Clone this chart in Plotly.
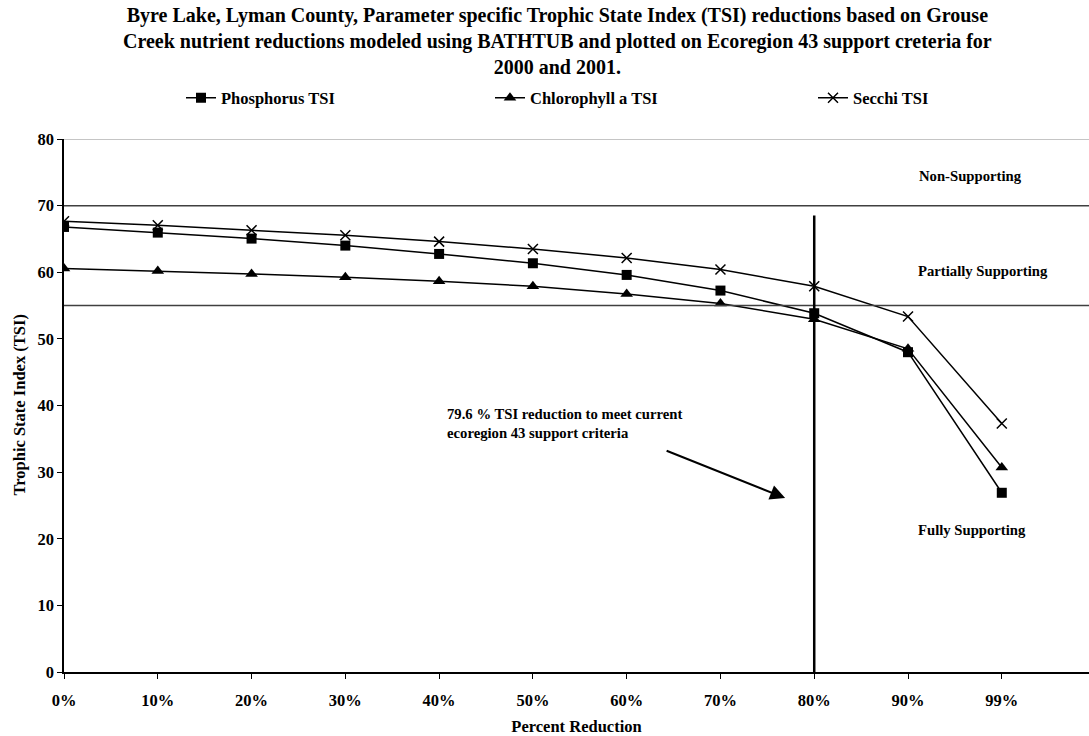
import plotly.graph_objects as go

# Percent reduction categories and parameter-specific TSI values
reduction = ["0%", "10%", "20%", "30%", "40%", "50%", "60%", "70%", "80%", "90%", "99%"]
phosphorus_tsi = [66.8, 65.95, 65.05, 64.0, 62.75, 61.35, 59.6, 57.25, 53.85, 48.0, 26.9]
chlorophyll_tsi = [60.55, 60.2, 59.75, 59.25, 58.65, 57.9, 56.75, 55.3, 52.95, 48.5, 30.7]
secchi_tsi = [67.65, 67.05, 66.3, 65.55, 64.6, 63.5, 62.15, 60.4, 57.9, 53.35, 37.3]

# Ecoregion 43 support thresholds
non_supporting_limit = 70
fully_supporting_limit = 55
target_reduction = "80%"
target_line_top = 68.5

FONT = "Liberation Serif"
W, H = 1089, 736
M_L, M_R, M_T, M_B = 64, 0, 139, 64
PLOT_W = W - M_L - M_R
PLOT_H = H - M_T - M_B


def paper_y(px_from_top):
    """Convert a pixel offset from the top of the page into paper y."""
    return (H - M_B - px_from_top) / PLOT_H


def paper_x(px_from_left):
    """Convert a pixel offset from the left of the page into paper x."""
    return (px_from_left - M_L) / PLOT_W


bold = dict(family=FONT, color="black", weight="bold")

fig = go.Figure()

series = [
    ("Phosphorus TSI", phosphorus_tsi,
     dict(symbol="square", size=10, color="black"), "legend"),
    ("Chlorophyll a TSI", chlorophyll_tsi,
     dict(symbol="triangle-up", size=11, color="black"), "legend2"),
    ("Secchi TSI", secchi_tsi,
     dict(symbol="x-thin", size=10, color="black", line=dict(color="black", width=1.5)), "legend3"),
]
for name, vals, marker, leg in series:
    fig.add_trace(go.Scatter(
        x=reduction, y=vals, name=name, mode="lines+markers",
        line=dict(color="black", width=1.5), marker=marker, legend=leg,
    ))

shapes = [
    # top border at 80
    dict(type="line", xref="paper", yref="y", x0=0, x1=1, y0=80, y1=80,
         line=dict(color="#8c8c8c", width=1)),
    # support threshold lines
    dict(type="line", xref="paper", yref="y", x0=0, x1=1,
         y0=non_supporting_limit, y1=non_supporting_limit,
         line=dict(color="#404040", width=1.5)),
    dict(type="line", xref="paper", yref="y", x0=0, x1=1,
         y0=fully_supporting_limit, y1=fully_supporting_limit,
         line=dict(color="#404040", width=1.5)),
    # target reduction marker
    dict(type="line", xref="x", yref="y", x0=target_reduction, x1=target_reduction,
         y0=0, y1=target_line_top, line=dict(color="black", width=2.5)),
]

annotations = [
    dict(text=("Byre Lake, Lyman County, Parameter specific Trophic State Index (TSI) reductions based on Grouse<br>"
               "Creek nutrient reductions modeled using BATHTUB and plotted on Ecoregion 43 support creteria for<br>"
               "2000 and 2001."),
         xref="paper", yref="paper", x=paper_x(557), y=paper_y(2),
         xanchor="center", yanchor="top", align="center", showarrow=False,
         font=dict(size=20, **bold)),
    # y-axis title
    dict(text="Trophic State Index (TSI)", xref="paper", yref="paper",
         x=paper_x(19), y=0.5, textangle=-90, showarrow=False,
         xanchor="center", yanchor="middle", font=dict(size=16.5, **bold)),
    dict(text="Non-Supporting", xref="x", yref="y", x=9.67, y=74.5,
         showarrow=False, font=dict(size=14.7, **bold)),
    dict(text="Partially Supporting", xref="x", yref="y", x=9.8, y=60.2,
         showarrow=False, font=dict(size=14.7, **bold)),
    dict(text="Fully Supporting", xref="x", yref="y", x=9.68, y=21.3,
         showarrow=False, font=dict(size=14.7, **bold)),
    dict(text="79.6 % TSI reduction to meet current<br>ecoregion 43 support criteria",
         xref="x", yref="y", x=4.06, y=37.3, xanchor="left", align="left",
         showarrow=False, font=dict(size=14.7, **bold)),
    dict(text="", xref="x", yref="y", x=7.69, y=26.1,
         axref="x", ayref="y", ax=6.41, ay=33.3,
         showarrow=True, arrowhead=2, arrowsize=1.5, arrowwidth=2, arrowcolor="black"),
]


def legend_at(px_left):
    return dict(
        orientation="h", xref="container", yref="container",
        x=px_left / W, xanchor="left", y=1 - 98 / H, yanchor="middle",
        font=dict(size=16.5, **bold), bgcolor="rgba(0,0,0,0)",
    )


fig.update_layout(
    width=W, height=H,
    paper_bgcolor="white", plot_bgcolor="white",
    margin=dict(l=M_L, r=M_R, t=M_T, b=M_B, autoexpand=False),
    legend=legend_at(181),
    legend2=legend_at(490),
    legend3=legend_at(813),
    xaxis=dict(
        type="category", range=[0, 10.93],
        showline=True, linecolor="black", linewidth=1.5,
        ticks="outside", ticklen=5, tickcolor="black",
        showgrid=False, zeroline=False,
        tickfont=dict(size=16.5, **bold), ticklabelstandoff=7,
        title=dict(text="Percent Reduction", font=dict(size=16.5, **bold), standoff=13),
    ),
    yaxis=dict(
        range=[0, 80], dtick=10,
        showline=True, linecolor="black", linewidth=1.5,
        ticks="outside", ticklen=5, tickcolor="black",
        showgrid=False, zeroline=False,
        tickfont=dict(size=16.5, **bold),
    ),
    shapes=shapes,
    annotations=annotations,
    showlegend=True,
)

fig.write_html("out.html")
